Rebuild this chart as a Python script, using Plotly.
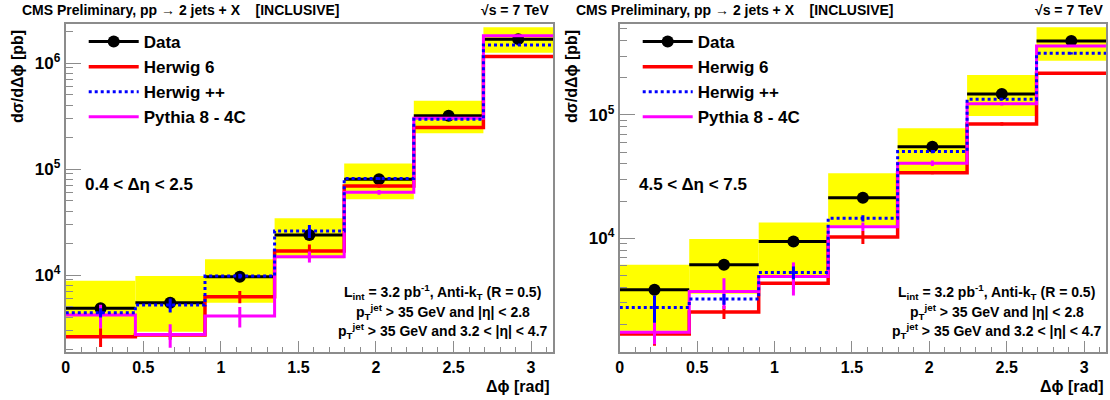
import math
import plotly.graph_objects as go

# Binning in delta-phi: 7 equal bins from 0 to pi
N_BINS = 7
EDGES = [math.pi * i / N_BINS for i in range(N_BINS + 1)]
CENTERS = [(EDGES[i] + EDGES[i + 1]) / 2 for i in range(N_BINS)]
BIN_W = math.pi / N_BINS

# ---- 0.4 < d-eta < 2.5 ----
data_lo = [4850, 5480, 9640, 23800, 80000, 318000, 1680000]
syst_lo_low = [2660, 2920, 5480, 14400, 51800, 217000, 1250000]
syst_lo_high = [8830, 9790, 14100, 34300, 113000, 441000, 2170000]
herwig6_lo = [2620, 2720, 6240, 16900, 69200, 247000, 1150000]
herwigpp_lo = [4410, 5210, 9770, 26000, 81300, 294000, 1480000]
pythia8_lo = [4200, 2750, 4100, 14900, 60300, 301000, 1810000]
herwig6_lo_err = [20, 10, 13, 15, 4, 2, 1]      # percent
herwigpp_lo_err = [10, 15, 5, 14, 3, 2, 1]
pythia8_lo_err = [25, 25, 22, 12, 5, 3, 2]

# ---- 4.5 < d-eta < 7.5 ----
data_hi = [3810, 6070, 9380, 21300, 55300, 148000, 398000]
syst_hi_low = [1770, 3530, 4890, 12600, 33700, 98200, 275000]
syst_hi_high = [6070, 9820, 13400, 33700, 78000, 211000, 514000]
herwig6_hi = [1670, 2510, 4310, 10200, 34000, 84500, 218000]
herwigpp_hi = [2740, 3200, 5260, 14500, 50400, 134000, 316000]
pythia8_hi = [1720, 3690, 4890, 12400, 40600, 123000, 363000]
herwig6_hi_err = [20, 12, 10, 12, 3, 3, 2]
herwigpp_hi_err = [25, 10, 12, 6, 3, 2, 2]
pythia8_hi_err = [20, 28, 30, 8, 5, 3, 2]

data_stat_err = 2  # percent

X_TICKS = [0, 0.5, 1, 1.5, 2, 2.5, 3]
X_TICK_TEXT = ["0", "0.5", "1", "1.5", "2", "2.5", "3"]

FONT = "Liberation Sans, Arial, Helvetica, sans-serif"
RED = "#FF0000"
BLUE = "#0000FF"
MAGENTA = "#FF00FF"
YELLOW = "#FFFF00"
FRAME = "#8c8c8c"

W, H = 1110, 400


def px_x(p):
    return p / W


def px_y(p):
    return 1 - p / H


fig = go.Figure()


def add_panel(col, data, lo, hi, h6, hpp, py8, h6e, hppe, py8e, legend):
    xa = "x" if col == 1 else "x2"
    ya = "y" if col == 1 else "y2"
    # systematic uncertainty band
    fig.add_trace(go.Bar(
        x=CENTERS, y=[h - l for h, l in zip(hi, lo)], base=lo, width=BIN_W,
        marker=dict(color=YELLOW, line=dict(width=0)),
        showlegend=False, xaxis=xa, yaxis=ya, hoverinfo="skip"))
    # measured points with bin-width horizontal bars
    fig.add_trace(go.Scatter(
        x=CENTERS, y=data, mode="markers",
        marker=dict(color="black", size=12, symbol="circle"),
        error_x=dict(type="constant", value=BIN_W / 2, thickness=3, width=0, color="black"),
        error_y=dict(type="percent", value=data_stat_err, thickness=2, width=0, color="black"),
        showlegend=False, xaxis=xa, yaxis=ya))
    # Monte Carlo predictions as step histograms with stat. error bars
    styles = [
        ("Herwig 6", h6, h6e, dict(color=RED, width=3.5), 2),
        ("Pythia 8 - 4C", py8, py8e, dict(color=MAGENTA, width=3), 4),
        ("Herwig ++", hpp, hppe, dict(color=BLUE, width=3, dash="dot"), 3),
    ]
    for name, vals, errs, line, rank in styles:
        fig.add_trace(go.Scatter(
            x=EDGES, y=vals + [vals[-1]], mode="lines",
            line=dict(shape="hv", **line), name=name, legend=legend,
            legendrank=rank, xaxis=xa, yaxis=ya))
        fig.add_trace(go.Scatter(
            x=CENTERS, y=vals, mode="markers",
            marker=dict(size=1, color="rgba(0,0,0,0)"),
            error_y=dict(type="data", array=[v * e / 100 for v, e in zip(vals, errs)],
                         thickness=3, width=0, color=line["color"]),
            showlegend=False, xaxis=xa, yaxis=ya, hoverinfo="skip"))
    # legend key for data
    fig.add_trace(go.Scatter(
        x=[None], y=[None], mode="lines+markers", name="Data", legend=legend,
        legendrank=1, line=dict(color="black", width=3),
        marker=dict(color="black", size=12), xaxis=xa, yaxis=ya))


add_panel(1, data_lo, syst_lo_low, syst_lo_high, herwig6_lo, herwigpp_lo, pythia8_lo,
          herwig6_lo_err, herwigpp_lo_err, pythia8_lo_err, "legend")
add_panel(2, data_hi, syst_hi_low, syst_hi_high, herwig6_hi, herwigpp_hi, pythia8_hi,
          herwig6_hi_err, herwigpp_hi_err, pythia8_hi_err, "legend2")


def minor_log(lo_exp, hi_exp):
    vals = []
    for e in range(lo_exp, hi_exp + 1):
        for m in range(2, 10):
            vals.append(m * 10 ** e)
    return vals


xaxis_common = dict(
    range=[0, math.pi], tickvals=X_TICKS, ticktext=X_TICK_TEXT,
    ticks="inside", ticklen=11, tickwidth=1, tickcolor=FRAME,
    minor=dict(dtick=0.1, tick0=0, ticks="inside", ticklen=5, tickwidth=1, tickcolor=FRAME),
    showline=True, linecolor=FRAME, linewidth=2, mirror=True,
    showgrid=False, zeroline=False,
    tickfont=dict(family=FONT, size=16, color="black", weight="bold"),
)
yaxis_common = dict(
    type="log", ticks="inside", ticklen=15, tickwidth=1, tickcolor=FRAME,
    showline=True, linecolor=FRAME, linewidth=2, mirror=True,
    showgrid=False, zeroline=False,
    tickfont=dict(family=FONT, size=17, color="black", weight="bold"),
)

legend_common = dict(
    xanchor="left", yanchor="top", bgcolor="rgba(0,0,0,0)", itemwidth=50,
    tracegroupgap=0, font=dict(family=FONT, size=17, color="black", weight="bold"))

fig.update_layout(
    width=W, height=H, margin=dict(l=0, r=0, t=0, b=0),
    paper_bgcolor="white", plot_bgcolor="white", barmode="overlay",
    xaxis=dict(domain=[px_x(62), px_x(551)], anchor="y", **xaxis_common),
    xaxis2=dict(domain=[px_x(618), px_x(1106)], anchor="y2", **xaxis_common),
    yaxis=dict(domain=[px_y(352), px_y(24)], anchor="x", range=[3.274, 6.368],
               tickvals=[1e4, 1e5, 1e6],
               ticktext=["10<sup>4</sup>", "10<sup>5</sup>", "10<sup>6</sup>"],
               minor=dict(tickvals=minor_log(3, 6), ticks="inside", ticklen=7,
                          tickwidth=1, tickcolor=FRAME),
               **yaxis_common),
    yaxis2=dict(domain=[px_y(352), px_y(24)], anchor="x2", range=[3.076, 5.738],
                tickvals=[1e4, 1e5],
                ticktext=["10<sup>4</sup>", "10<sup>5</sup>"],
                minor=dict(tickvals=minor_log(3, 5), ticks="inside", ticklen=7,
                           tickwidth=1, tickcolor=FRAME),
                **yaxis_common),
    legend=dict(x=px_x(80), y=px_y(24), **legend_common),
    legend2=dict(x=px_x(636), y=px_y(24), **legend_common),
)


def text(x, y, s, size, xanchor="left", yanchor="middle", angle=0):
    fig.add_annotation(
        x=px_x(x), y=px_y(y), xref="paper", yref="paper", text=s, showarrow=False,
        xanchor=xanchor, yanchor=yanchor, textangle=angle,
        font=dict(family=FONT, size=size, color="black", weight="bold"))


NB = "\u00a0"
for off, deta in [(0, "0.4 < Δη < 2.5"), (556, "4.5 < Δη < 7.5")]:
    text(16 + off, 10, "CMS Preliminary, pp → 2 jets + X" + NB * 4 + "[INCLUSIVE]", 14)
    text(549 + off, 10, "√s = 7 TeV", 14, xanchor="right")
    text(14 + off, 76, "dσ/dΔϕ [pb]", 16, xanchor="center", angle=-90)
    text(79 + off, 184, deta, 17)
    text(550 + off, 386, "Δϕ [rad]", 16, xanchor="right")
    cx = 440.5 + off
    text(cx, 292, "L<sub>int</sub> = 3.2 pb<sup>-1</sup>, Anti-k<sub>T</sub> (R = 0.5)", 14,
         xanchor="center")
    text(cx, 312, "p<sub>T</sub><sup>jet</sup> > 35 GeV and |η| < 2.8", 14, xanchor="center")
    text(cx, 331, "p<sub>T</sub><sup>jet</sup> > 35 GeV and 3.2 < |η| < 4.7", 14,
         xanchor="center")

fig.write_html("out.html")
